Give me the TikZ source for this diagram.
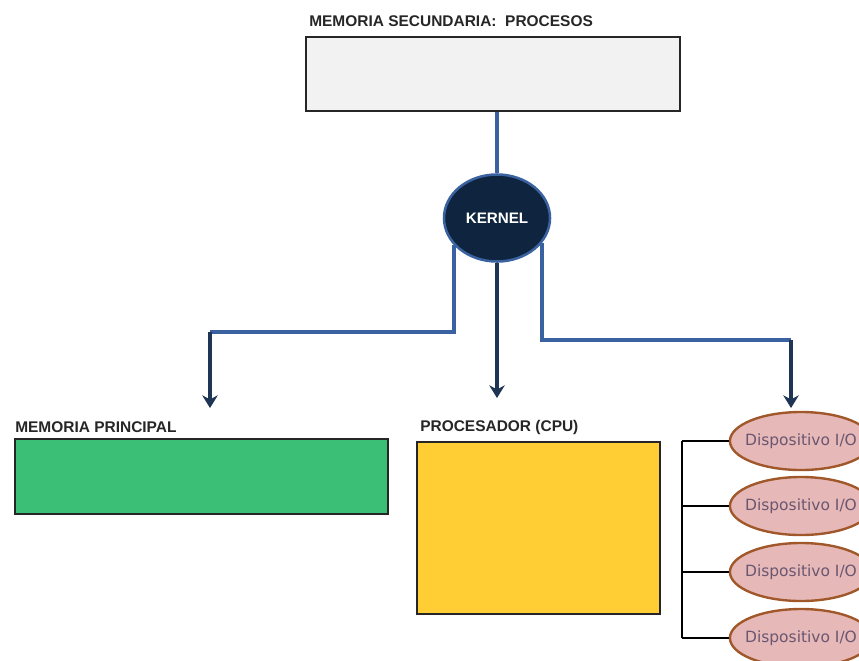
\documentclass[tikz,border=0pt]{standalone}
\usepackage{fontspec}
\setmainfont{Liberation Sans}
\newfontfamily\devfont{DejaVu Sans}
\usepackage{tikz}
\usetikzlibrary{arrows.meta,shapes.geometric}

\definecolor{grisbox}{HTML}{F2F2F2}
\definecolor{verdebox}{HTML}{3BBF77}
\definecolor{amarillobox}{HTML}{FFCD34}
\definecolor{rosadev}{HTML}{E6B9B8}
\definecolor{cafedev}{HTML}{A0582A}
\definecolor{textodev}{HTML}{6A5670}
\definecolor{marino}{HTML}{0F243E}
\definecolor{flecha}{HTML}{1F3556}
\definecolor{azul}{HTML}{3B62A0}

\begin{document}
\begin{tikzpicture}
[x=0.025cm, y=-0.025cm,
 box/.style={rectangle,draw=black!85,line width=1pt,inner sep=0pt},
 lbl/.style={anchor=west,inner sep=0pt,font=\fontsize{11}{13}\selectfont\bfseries,text=black!85},
 dev/.style={ellipse,draw=cafedev,line width=1.7pt,fill=rosadev,minimum width=3.45cm,minimum height=1.45cm,inner xsep=-4pt,inner ysep=0pt,text=textodev,font=\devfont\fontsize{11}{13}\selectfont},
 blueline/.style={draw=azul,line width=2.5pt},
 navyarrow/.style={draw=flecha,line width=2.5pt,-{Stealth[length=9pt,width=11pt]}},
 bracket/.style={draw=black,line width=2.1pt}]
\useasboundingbox (0,0) rectangle (859,660);
\clip (0,0) rectangle (859,660);

% secondary memory and kernel
\node[box,fill=grisbox,minimum width=9.35cm,minimum height=1.85cm] (ms) at (493,74) {};
\node[lbl] (lms) at (309,21) {MEMORIA SECUNDARIA:~~PROCESOS};
\node[ellipse,draw=azul,line width=1.8pt,fill=marino,minimum width=2.65cm,minimum height=2.175cm,text=white,font=\fontsize{10.8}{12}\selectfont\bfseries] (k) at (497,218) {KERNEL};

% main memory and cpu
\node[box,fill=verdebox,minimum width=9.325cm,minimum height=1.875cm] (mp) at (201.5,476.5) {};
\node[lbl] (lmp) at (15,427) {MEMORIA PRINCIPAL};
\node[box,fill=amarillobox,minimum width=6.075cm,minimum height=4.3cm] (cpu) at (538.5,528) {};
\node[lbl] (lcpu) at (420,427) {PROCESADOR (CPU)};

% devices
\node[dev] (d1) at (801,441) {Dispositivo I/O};
\node[dev] (d2) at (801,506) {Dispositivo I/O};
\node[dev] (d3) at (801,572) {Dispositivo I/O};
\node[dev] (d4) at (801,638) {Dispositivo I/O};

\coordinate (c1) at (210,332);
\coordinate (c3) at (791,340);
\coordinate (t1) at (210,408);
\coordinate (t2) at (497,398);
\coordinate (t3) at (791,408);
\coordinate (bus) at (682,0);

\draw[blueline] (k.north) -- (k.north |- ms.south);
\draw[blueline] (k.212) |- (c1);
\draw[blueline] (k.331) |- (c3);

\foreach \from/\to in {c1/t1,k.south/t2,c3/t3}
	\draw[navyarrow] (\from) -- (\to);

\draw[bracket] (d1.west -| bus) -- (d4.west -| bus);
\foreach \d in {d1,d2,d3,d4}
	\draw[bracket] (\d.west) -- (\d.west -| bus);

\end{tikzpicture}
\end{document}
